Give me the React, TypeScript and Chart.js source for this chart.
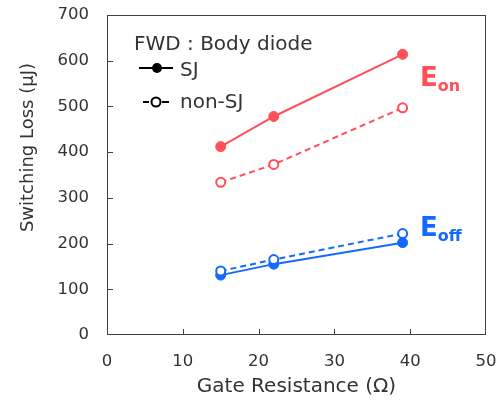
import React, { useEffect, useRef } from "react";
import { Chart, registerables } from "chart.js";

Chart.register(...registerables);

// Gate resistance (Ω) and switching losses (μJ)
const gateResistance = [15, 22, 39];
const eonSJ = [412, 478, 614];
const eonNonSJ = [334, 373, 497];
const eoffSJ = [131, 155, 202];
const eoffNonSJ = [140, 165, 222];

const yTicks = [0, 100, 200, 300, 400, 500, 600, 700];
const xTicks = [0, 10, 20, 30, 40, 50];

const Y_TITLE = "Switching Loss (μJ)";
const X_TITLE = "Gate Resistance (Ω)";

const RED = "#ff5058";
const BLUE = "#1569ff";
const FONT = "'DejaVu Sans', Verdana, sans-serif";
const TEXT = "#333333";
const AXIS = "#404040";

const toPoints = (ys: number[]) => gateResistance.map((x, i) => ({ x, y: ys[i] }));

const series = (label: string, ys: number[], color: string, dashed: boolean) => ({
  label,
  data: toPoints(ys),
  borderColor: color,
  backgroundColor: dashed ? "#ffffff" : color,
  pointBackgroundColor: dashed ? "#ffffff" : color,
  pointBorderColor: color,
  pointBorderWidth: dashed ? 2 : 1,
  pointRadius: dashed ? 4.5 : 5,
  borderWidth: 2,
  borderDash: dashed ? [6, 4] : [],
  showLine: true,
  fill: false,
});

// Box frame, inward ticks, y title, legend and curve labels
const decorations = {
  id: "decorations",
  afterDraw(chart: any) {
    const { ctx, chartArea: a, scales } = chart;
    const xs = scales.x;
    const ys = scales.y;
    ctx.save();
    ctx.strokeStyle = AXIS;
    ctx.lineWidth = 1;
    ctx.strokeRect(a.left + 0.5, a.top + 0.5, a.right - a.left - 1, a.bottom - a.top - 1);
    ctx.beginPath();
    yTicks.slice(1, -1).forEach((v) => {
      const y = Math.round(ys.getPixelForValue(v)) + 0.5;
      ctx.moveTo(a.left, y);
      ctx.lineTo(a.left + 6, y);
    });
    xTicks.slice(1, -1).forEach((v) => {
      const x = Math.round(xs.getPixelForValue(v)) + 0.5;
      ctx.moveTo(x, a.bottom);
      ctx.lineTo(x, a.bottom - 6);
    });
    ctx.stroke();

    // y-axis title, set a little above the plot's middle
    ctx.save();
    ctx.translate(28, ys.getPixelForValue(410));
    ctx.rotate(-Math.PI / 2);
    ctx.fillStyle = TEXT;
    ctx.font = `18px ${FONT}`;
    ctx.textAlign = "center";
    ctx.textBaseline = "middle";
    ctx.fillText(Y_TITLE, 0, 0);
    ctx.restore();

    // legend
    ctx.fillStyle = TEXT;
    ctx.textBaseline = "middle";
    ctx.textAlign = "left";
    ctx.font = `20px ${FONT}`;
    ctx.fillText("FWD : Body diode", a.left + 27, a.top + 30);
    ctx.fillText("SJ", a.left + 73, a.top + 56);
    ctx.fillText("non-SJ", a.left + 73, a.top + 88);

    ctx.strokeStyle = "#000000";
    ctx.fillStyle = "#000000";
    ctx.lineWidth = 2;
    ctx.beginPath();
    ctx.moveTo(a.left + 32, a.top + 53);
    ctx.lineTo(a.left + 66, a.top + 53);
    ctx.stroke();
    ctx.beginPath();
    ctx.arc(a.left + 50, a.top + 53, 5, 0, Math.PI * 2);
    ctx.fill();

    ctx.beginPath();
    ctx.moveTo(a.left + 36, a.top + 87);
    ctx.lineTo(a.left + 42, a.top + 87);
    ctx.moveTo(a.left + 55, a.top + 87);
    ctx.lineTo(a.left + 62, a.top + 87);
    ctx.stroke();
    ctx.beginPath();
    ctx.fillStyle = "#ffffff";
    ctx.arc(a.left + 49, a.top + 87, 4.5, 0, Math.PI * 2);
    ctx.fill();
    ctx.stroke();

    // curve labels
    const label = (main: string, sub: string, color: string, x: number, y: number) => {
      ctx.fillStyle = color;
      ctx.textBaseline = "alphabetic";
      ctx.font = `bold 26px ${FONT}`;
      ctx.fillText(main, x, y);
      const w = ctx.measureText(main).width;
      ctx.font = `bold 16px ${FONT}`;
      ctx.fillText(sub, x + w, y + 5);
    };
    label("E", "on", RED, 420, 86);
    label("E", "off", BLUE, 420, 236);
    ctx.restore();
  },
};

export default function App() {
  const canvasRef = useRef<HTMLCanvasElement | null>(null);

  useEffect(() => {
    document.body.style.margin = "0";
    const canvas = canvasRef.current;
    if (!canvas) return;
    const chart = new Chart(canvas, {
      type: "scatter",
      data: {
        datasets: [
          series("Eon non-SJ", eonNonSJ, RED, true),
          series("Eon SJ", eonSJ, RED, false),
          series("Eoff non-SJ", eoffNonSJ, BLUE, true),
          series("Eoff SJ", eoffSJ, BLUE, false),
        ],
      },
      options: {
        animation: false,
        responsive: false,
        layout: { padding: { left: 0, right: 10, top: 15, bottom: 0 } },
        plugins: {
          legend: { display: false },
          tooltip: { enabled: false },
        },
        scales: {
          x: {
            type: "linear",
            min: 0,
            max: 50,
            afterBuildTicks: (s: any) => {
              s.ticks = xTicks.map((value) => ({ value }));
            },
            afterFit: (s: any) => {
              s.height = 65;
              s.paddingLeft = 0;
              s.paddingRight = 0;
            },
            grid: { display: false, drawTicks: false },
            border: { display: false },
            ticks: { padding: 17, color: TEXT, font: { family: FONT, size: 16.5 } },
            title: {
              display: true,
              text: X_TITLE,
              color: TEXT,
              font: { family: FONT, size: 20 },
              padding: { top: 4, bottom: 1 },
            },
          },
          y: {
            min: 0,
            max: 700,
            afterBuildTicks: (s: any) => {
              s.ticks = yTicks.map((value) => ({ value }));
            },
            afterFit: (s: any) => {
              s.width = 107;
              s.paddingTop = 0;
              s.paddingBottom = 0;
            },
            grid: { display: false, drawTicks: false },
            border: { display: false },
            ticks: { padding: 18, color: TEXT, font: { family: FONT, size: 16.5 } },
            title: { display: false },
          },
        },
      },
      plugins: [decorations],
    });
    return () => chart.destroy();
  }, []);

  return (
    <div style={{ width: 496, height: 400 }}>
      <canvas ref={canvasRef} width={496} height={400} />
    </div>
  );
}
